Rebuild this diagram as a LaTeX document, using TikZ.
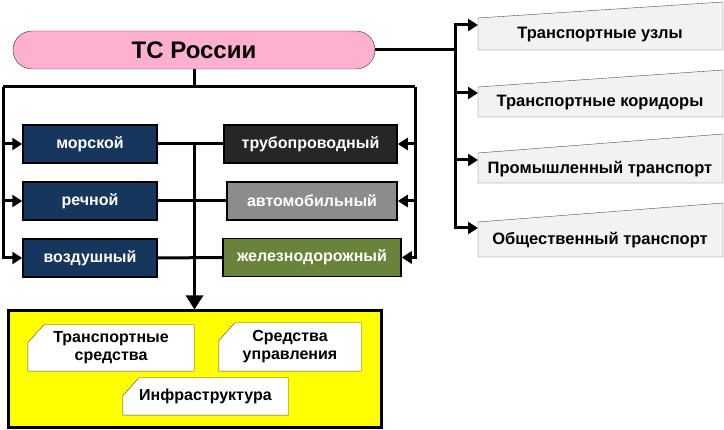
\documentclass[tikz,border=0pt]{standalone}
\usepackage{fontspec}
\setmainfont{Liberation Sans}
\usetikzlibrary{arrows.meta, positioning, calc, backgrounds}
\definecolor{tsPink}{HTML}{FFAFCF}
\definecolor{seaBlue}{HTML}{17365D}
\definecolor{pipeDark}{HTML}{262626}
\definecolor{roadGray}{HTML}{8C8C8C}
\definecolor{railGreen}{HTML}{69843A}
\definecolor{cardGray}{HTML}{F2F2F2}
\definecolor{yardYellow}{HTML}{FFFF00}
\tikzset{
  modebox/.style={draw=black, line width=1.5pt, minimum height=38pt, text=white, font=\bfseries\fontsize{16}{18}\selectfont},
  partcard/.style={inner sep=0pt, align=center, font=\bfseries\fontsize{16}{18}\selectfont},
  cardline/.style={draw=black!70, fill=white},
  sidecard/.style={draw=black!70, fill=cardGray},
  wire/.style={line width=3pt},
  tiparr/.style={line width=3pt, -{Triangle[length=10pt,width=12pt]}},
  bigarr/.style={line width=3pt, -{Triangle[length=14pt,width=17pt]}},
}
\newcommand{\cutcard}[1]{%
  \draw[cardline] ($(#1.north west)+(0,18)$) -- ($(#1.north west)+(16,0)$) -- (#1.north east)
    -- (#1.south east) -- (#1.south west) -- cycle;}
\begin{document}
\begin{tikzpicture}[x=1pt,y=-1pt]
  \useasboundingbox (0,0) rectangle (724,430);
  % head
  \node[draw=black!80, fill=tsPink, rounded corners=19pt, minimum width=362pt, minimum height=38pt,
    font=\bfseries\fontsize{24}{26}\selectfont] (title) at (194,50) {ТС России};
  % modes of transport
  \node[modebox, fill=seaBlue, minimum width=134pt] (sea) at (90,144) {морской};
  \node[modebox, fill=seaBlue, minimum width=134pt] (river) at (90,201) {речной};
  \node[modebox, fill=seaBlue, minimum width=134pt] (air) at (90,258) {воздушный};
  \node[modebox, fill=pipeDark, minimum width=173pt] (pipe) at (310.5,144) {трубопроводный};
  \node[modebox, fill=roadGray, minimum width=170pt] (road) at (312,201) {автомобильный};
  \node[modebox, fill=railGreen, minimum width=178pt] (rail) at (312,257.5) {железнодорожный};
  % components
  \node[partcard, minimum width=166pt, minimum height=46pt] (vehicles) at (111,348) {Транспортные\\средства};
  \node[partcard, minimum width=142pt, minimum height=48pt] (control) at (290,347) {Средства\\управления};
  \node[partcard, minimum width=165pt, minimum height=37pt] (infra) at (205.5,396.5) {Инфраструктура};
  \begin{scope}[on background layer]
    \node[draw=black, line width=3pt, fill=yardYellow, minimum width=373pt, minimum height=117pt] (yard) at (194.5,369.5) {};
    \cutcard{vehicles}
    \cutcard{control}
    \cutcard{infra}
  \end{scope}
  % right cards
  \foreach \i/\ya/\yb/\yc/\txt in {1/18/2/50/Транспортные узлы, 2/87/70/117/Транспортные коридоры,
      3/153/134/183/Промышленный транспорт, 4/222/203/257/Общественный транспорт}{
    \draw[sidecard] (478,\ya) -- (723,\yb) -- (723,\yc) -- (478,\yc) -- cycle;
    \node[font=\bfseries\fontsize{16.5}{18}\selectfont] (side\i) at (600,{(\ya+\yc)/2+1}) {\txt};
  }
  \coordinate (in1) at (478,25);
  \coordinate (in2) at (478,93);
  \coordinate (in3) at (478,160);
  \coordinate (in4) at (478,228);
  % connectors
  \coordinate (topL) at (3,87);
  \coordinate (topR) at (415,87);
  \coordinate (rhub) at (455,50);
  \draw[wire] (title.south) -- (title.south |- topL);
  \draw[wire] (topL) -- (topR);
  \foreach \n in {sea,river,air}
    \draw[tiparr] (topL) |- (\n.west);
  \foreach \n in {pipe,road,rail}
    \draw[tiparr] (topR) |- (\n.east);
  \draw[wire] (sea.east) -- (pipe.west);
  \draw[wire] (river.east) -- (road.west);
  \draw[wire] (air.east) -- (rail.west);
  \draw[bigarr] (sea.east -| yard.north) -- (yard.north);
  \draw[wire] (title.east) -- (rhub);
  \foreach \k in {1,...,4}
    \draw[tiparr] (rhub) |- (in\k);
\end{tikzpicture}
\end{document}
